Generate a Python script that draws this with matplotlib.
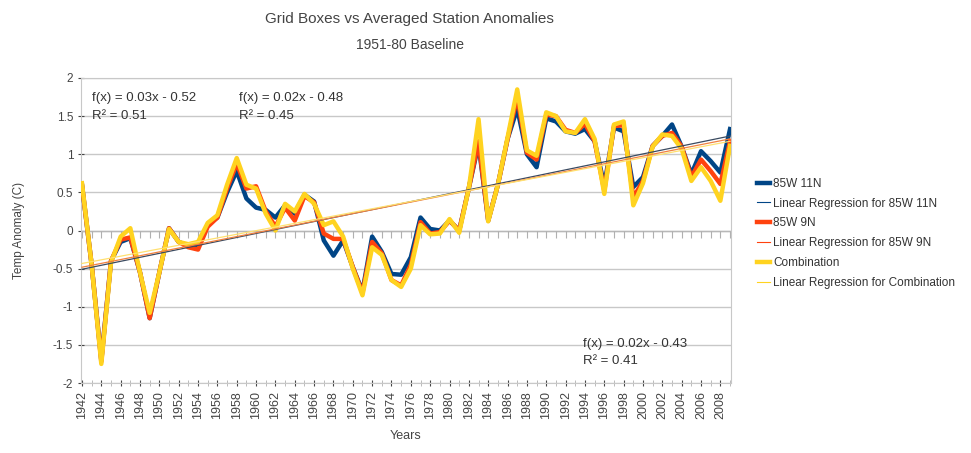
import numpy as np
import matplotlib.pyplot as plt
from matplotlib.lines import Line2D

plt.rcParams['font.family'] = ['Liberation Sans', 'DejaVu Sans']

years = list(range(1942, 2010))

# annual anomalies (C) against the 1951-80 mean
grid_11n = [0.6, -0.45, -1.7, -0.4, -0.15, -0.1, -0.55, -1.15, -0.55, 0.03,
            -0.15, -0.2, -0.22, 0.08, 0.17, 0.5, 0.78, 0.42, 0.3, 0.27,
            0.17, 0.33, 0.22, 0.47, 0.38, -0.13, -0.33, -0.13, -0.48, -0.8,
            -0.08, -0.28, -0.57, -0.58, -0.35, 0.17, 0.02, 0.0, 0.13, 0.0,
            0.56, 1.13, 0.13, 0.6, 1.2, 1.6, 1.0, 0.83, 1.47, 1.43,
            1.3, 1.27, 1.33, 1.17, 0.59, 1.35, 1.3, 0.57, 0.7, 1.11,
            1.24, 1.39, 1.1, 0.74, 1.04, 0.91, 0.76, 1.33]
grid_9n = [0.6, -0.45, -1.72, -0.4, -0.12, -0.09, -0.55, -1.15, -0.55, 0.03,
           -0.15, -0.22, -0.25, 0.05, 0.17, 0.55, 0.88, 0.55, 0.58, 0.25,
           0.05, 0.3, 0.13, 0.45, 0.37, -0.04, -0.11, -0.11, -0.48, -0.82,
           -0.15, -0.3, -0.65, -0.72, -0.45, 0.11, -0.04, -0.02, 0.13, 0.0,
           0.56, 1.17, 0.13, 0.6, 1.2, 1.75, 1.02, 0.93, 1.52, 1.5,
           1.32, 1.28, 1.4, 1.17, 0.52, 1.37, 1.38, 0.43, 0.65, 1.11,
           1.24, 1.28, 1.1, 0.7, 0.93, 0.78, 0.61, 1.17]
combined = [0.62, -0.45, -1.75, -0.42, -0.08, 0.03, -0.55, -1.08, -0.55, 0.02,
            -0.15, -0.18, -0.15, 0.1, 0.2, 0.6, 0.95, 0.6, 0.55, 0.22,
            0.0, 0.35, 0.25, 0.48, 0.35, 0.07, 0.12, -0.08, -0.5, -0.85,
            -0.22, -0.32, -0.65, -0.74, -0.5, 0.07, -0.05, -0.04, 0.15, -0.03,
            0.56, 1.46, 0.12, 0.6, 1.22, 1.85, 1.05, 0.98, 1.55, 1.5,
            1.3, 1.28, 1.46, 1.2, 0.48, 1.39, 1.43, 0.33, 0.62, 1.1,
            1.26, 1.24, 1.07, 0.65, 0.83, 0.65, 0.39, 1.11]

blue, orange, yellow = '#004586', '#ff420e', '#ffd320'

fig = plt.figure(figsize=(9.71, 4.53), dpi=100)
ax = fig.add_axes([81 / 971, 70 / 453, 650 / 971, 305 / 453])

x = np.array(years)
idx = np.arange(1, len(years) + 1)

series = [(grid_11n, blue, '85W 11N'),
          (grid_9n, orange, '85W 9N'),
          (combined, yellow, 'Combination')]

handles = []
for vals, col, name in series:
    ax.plot(x, vals, color=col, lw=3.2, solid_joinstyle='round', zorder=3)
    handles.append(Line2D([], [], color=col, lw=3.2))
    handles.append(Line2D([], [], color=col, lw=0.8))

# trend lines, fitted against the running index 1..n
trend_cols = ['#3a4a60', '#f08040', '#ffe070']
for (vals, col, name), tc in zip(series, trend_cols):
    k, b = np.polyfit(idx, vals, 1)
    ax.plot(x, k * idx + b, color=tc, lw=0.9, zorder=4)

text_col = '#333333'
eq_kw = dict(fontsize=9.5, color=text_col, linespacing=1.6, va='center')
ax.text(1943, 1.62, 'f(x) = 0.03x - 0.52\nR² = 0.51', **eq_kw)
ax.text(1958.2, 1.62, 'f(x) = 0.02x - 0.48\nR² = 0.45', **eq_kw)
ax.text(1993.8, -1.6, 'f(x) = 0.02x - 0.43\nR² = 0.41', **eq_kw)

# year ticks hanging off the zero line
ax.plot(x, np.zeros(len(x)), ls='none', marker=3, ms=5, mew=0.8,
        color='#b0b0b0', zorder=2)
ax.axhline(0, color='#b8b8b8', lw=1.0, zorder=1)

ax.set_xlim(1941.9, 2009.1)
ax.set_ylim(-2, 2)
ax.set_yticks(np.arange(-2, 2.01, 0.5))
ax.set_yticklabels(['-2', '-1.5', '-1', '-0.5', '0', '0.5', '1', '1.5', '2'])
ax.set_xticks(range(1942, 2009, 2))
ax.set_xticks(years, minor=True)
ax.tick_params(axis='x', labelrotation=90, labelsize=9, colors='#444444',
               length=5, direction='inout')
ax.tick_params(axis='x', which='minor', length=5, direction='inout',
               color='#b0b0b0')
ax.tick_params(axis='y', labelsize=8.5, colors='#444444', length=4,
               direction='inout')
ax.grid(axis='y', color='#c8c8c8', lw=1.0)
ax.set_axisbelow(True)
for s in ax.spines.values():
    s.set_color('#c8c8c8')

ax.set_ylabel('Temp Anomaly (C)', fontsize=8.5, color='#444444', labelpad=20)
ax.set_xlabel('Years', fontsize=9, color='#444444', labelpad=8)

fig.text(0.422, 0.958, 'Grid Boxes vs Averaged Station Anomalies',
         ha='center', va='center', fontsize=11, color='#444444')
fig.text(0.422, 0.9, '1951-80 Baseline', ha='center', va='center',
         fontsize=10, color='#444444')

labels = ['85W 11N', 'Linear Regression for 85W 11N',
          '85W 9N', 'Linear Regression for 85W 9N',
          'Combination', 'Linear Regression for Combination']
fig.legend(handles, labels, loc='upper left', bbox_to_anchor=(752 / 971, 1 - 173 / 453),
           frameon=False, fontsize=8.5, handlelength=1.1, handletextpad=0.3,
           labelspacing=0.66, labelcolor='#333333', borderaxespad=0)

fig.savefig('out.png', dpi=100)
